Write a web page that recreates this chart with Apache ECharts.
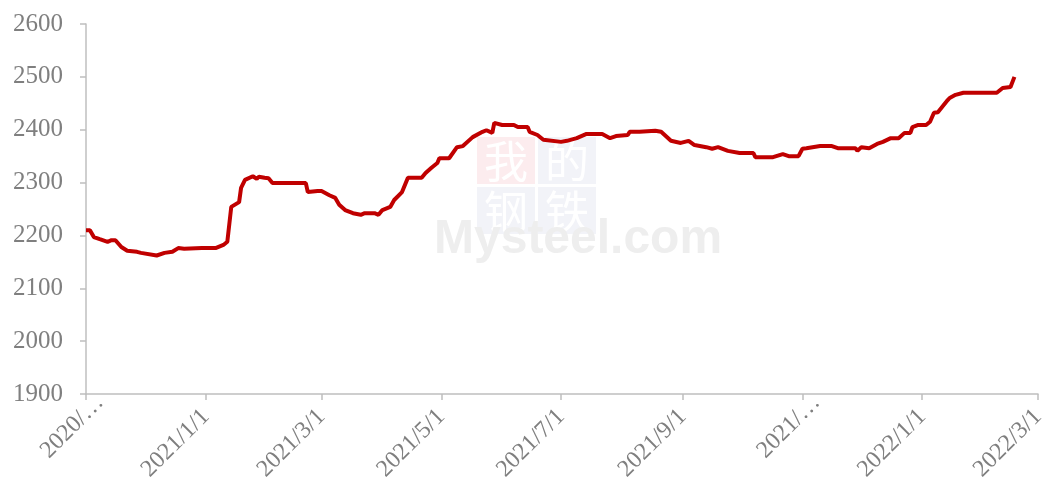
<!DOCTYPE html>
<html lang="zh-CN">
<head>
<meta charset="utf-8" />
<title>price</title>
<style>
  html, body { margin: 0; padding: 0; background: #fff; }
  #chart { width: 1042px; height: 481px; }
</style>
<script src="https://cdn.jsdelivr.net/npm/echarts@6/dist/echarts.min.js"></script>
</head>
<body>
<div id="chart"></div>
<script>
// 刻度（每两个月一个）
var tickDates = ['2020-11-01', '2021-01-01', '2021-03-01', '2021-05-01', '2021-07-01',
  '2021-09-01', '2021-11-01', '2022-01-01', '2022-03-01'];
var tickLabels = ['2020/…', '2021/1/1', '2021/3/1', '2021/5/1', '2021/7/1',
  '2021/9/1', '2021/…', '2022/1/1', '2022/3/1'];

// 价格
var priceDates = [
  '2020-11-01', '2020-11-03', '2020-11-05', '2020-11-08', '2020-11-12', '2020-11-14', '2020-11-16',
  '2020-11-19', '2020-11-22', '2020-11-27', '2020-11-29', '2020-12-07', '2020-12-11', '2020-12-15',
  '2020-12-18', '2020-12-21', '2020-12-30', '2021-01-06', '2021-01-10', '2021-01-12', '2021-01-14',
  '2021-01-18', '2021-01-19', '2021-01-21', '2021-01-25', '2021-01-27', '2021-01-28', '2021-01-31',
  '2021-02-02', '2021-02-04', '2021-02-21', '2021-02-22', '2021-02-27', '2021-03-01', '2021-03-05',
  '2021-03-08', '2021-03-10', '2021-03-13', '2021-03-17', '2021-03-21', '2021-03-23', '2021-03-28',
  '2021-03-30', '2021-04-01', '2021-04-05', '2021-04-07', '2021-04-11', '2021-04-14', '2021-04-21',
  '2021-04-23', '2021-04-26', '2021-04-29', '2021-04-30', '2021-05-05', '2021-05-09', '2021-05-12',
  '2021-05-17', '2021-05-22', '2021-05-24', '2021-05-27', '2021-05-28', '2021-06-01', '2021-06-07',
  '2021-06-09', '2021-06-14', '2021-06-15', '2021-06-19', '2021-06-22', '2021-07-01', '2021-07-04',
  '2021-07-09', '2021-07-14', '2021-07-22', '2021-07-26', '2021-07-29', '2021-08-04', '2021-08-05',
  '2021-08-10', '2021-08-18', '2021-08-21', '2021-08-26', '2021-08-31', '2021-09-04', '2021-09-07',
  '2021-09-13', '2021-09-16', '2021-09-19', '2021-09-20', '2021-09-24', '2021-09-30', '2021-10-07',
  '2021-10-08', '2021-10-17', '2021-10-22', '2021-10-25', '2021-10-30', '2021-11-01', '2021-11-03',
  '2021-11-10', '2021-11-16', '2021-11-19', '2021-11-28', '2021-11-29', '2021-12-01', '2021-12-05',
  '2021-12-09', '2021-12-12', '2021-12-16', '2021-12-20', '2021-12-23', '2021-12-26', '2021-12-27',
  '2021-12-30', '2022-01-03', '2022-01-05', '2022-01-07', '2022-01-09', '2022-01-14', '2022-01-15',
  '2022-01-18', '2022-01-22', '2022-02-08', '2022-02-11', '2022-02-15', '2022-02-17'
];
var prices = [
  2210, 2210, 2197, 2193, 2188, 2191, 2191,
  2178, 2171, 2169, 2167, 2162, 2167, 2169,
  2176, 2175, 2176, 2176, 2182, 2188, 2254,
  2263, 2290, 2305, 2312, 2307, 2311, 2309,
  2308, 2299, 2299, 2282, 2284, 2284, 2276,
  2271, 2258, 2248, 2242, 2239, 2242, 2242,
  2239, 2248, 2254, 2267, 2282, 2309, 2309,
  2318, 2328, 2337, 2346, 2346, 2367, 2369,
  2386, 2396, 2399, 2394, 2413, 2409, 2409,
  2405, 2405, 2396, 2390, 2381, 2377, 2379,
  2384, 2392, 2392, 2384, 2388, 2390, 2396,
  2396, 2398, 2396, 2379, 2375, 2379, 2371,
  2367, 2364, 2367, 2367, 2360, 2356, 2356,
  2348, 2348, 2354, 2350, 2350, 2364, 2365,
  2369, 2369, 2365, 2365, 2360, 2367, 2365,
  2373, 2377, 2384, 2384, 2394, 2394, 2405,
  2409, 2409, 2415, 2432, 2433, 2456, 2460,
  2466, 2470, 2470, 2479, 2481, 2500
];

// 横轴按天排列
function pad(n) { return n < 10 ? '0' + n : '' + n; }
var days = [];
var t = Date.UTC(2020, 10, 1), tEnd = Date.UTC(2022, 2, 1);
for (; t <= tEnd; t += 86400000) {
  var d = new Date(t);
  days.push(d.getUTCFullYear() + '-' + pad(d.getUTCMonth() + 1) + '-' + pad(d.getUTCDate()));
}

var seriesData = priceDates.map(function (dt, i) { return [dt, prices[i]]; });

function isTick(index, value) { return tickDates.indexOf(value) >= 0; }

var chart = echarts.init(document.getElementById('chart'));
var font = '"Liberation Serif", "Times New Roman", serif';
chart.setOption({
  animation: false,
  grid: { left: 86, right: 4, top: 24, bottom: 87, containLabel: false, outerBoundsMode: 'none' },
  graphic: [
    { type: 'rect', left: 477, top: 137, shape: { width: 58, height: 47 }, style: { fill: '#fcecee' }, z: 0 },
    { type: 'rect', left: 538, top: 137, shape: { width: 58, height: 47 }, style: { fill: '#f2f3f8' }, z: 0 },
    { type: 'rect', left: 477, top: 187, shape: { width: 58, height: 47 }, style: { fill: '#f2f3f8' }, z: 0 },
    { type: 'rect', left: 538, top: 187, shape: { width: 58, height: 47 }, style: { fill: '#f2f3f8' }, z: 0 },
    { type: 'text', left: 484, top: 139, style: { text: '我', fill: '#ffffff', font: '44px "Noto Sans CJK SC"' }, z: 1 },
    { type: 'text', left: 545, top: 139, style: { text: '的', fill: '#ffffff', font: '44px "Noto Sans CJK SC"' }, z: 1 },
    { type: 'text', left: 484, top: 189, style: { text: '钢', fill: '#ffffff', font: '44px "Noto Sans CJK SC"' }, z: 1 },
    { type: 'text', left: 545, top: 189, style: { text: '铁', fill: '#ffffff', font: '44px "Noto Sans CJK SC"' }, z: 1 },
    { type: 'text', left: 434, top: 216, style: { text: 'Mysteel.com', fill: '#eeeeee', font: 'bold 48px "Liberation Sans"' }, z: 1 }
  ],
  xAxis: {
    type: 'category',
    data: days.map(function (v) {
      // 被截断的两个标签在原图里往右上偏一些
      if (v === '2020-11-01' || v === '2021-11-01') {
        return { value: v, textStyle: { padding: [8, -20, 0, 0] } };
      }
      return v;
    }),
    boundaryGap: false,
    axisLine: { lineStyle: { color: '#bfbfbf', width: 1.5 } },
    axisTick: { interval: isTick, length: 6, lineStyle: { color: '#bfbfbf', width: 1.5 } },
    axisLabel: {
      interval: isTick,
      rotate: 45,
      margin: 19,
      color: '#7f7f7f',
      fontFamily: font,
      fontSize: 24,
      hideOverlap: false,
      formatter: function (v) { return tickLabels[tickDates.indexOf(v)]; }
    },
    splitLine: { show: false }
  },
  yAxis: {
    type: 'value',
    min: 1900,
    max: 2600,
    interval: 100,
    axisLine: { show: true, lineStyle: { color: '#bfbfbf', width: 1.5 } },
    axisTick: { show: true, length: 6, lineStyle: { color: '#bfbfbf', width: 1.5 } },
    axisLabel: {
      color: '#7f7f7f', fontFamily: font, fontSize: 25, margin: 23,
      formatter: function (v) { return String(v); }
    },
    splitLine: { show: false }
  },
  series: [{
    type: 'line',
    data: seriesData,
    showSymbol: false,
    symbol: 'none',
    lineStyle: { color: '#c00000', width: 4 },
    z: 5
  }]
});
window.onresize = function () { chart.resize(); };
</script>
</body>
</html>
